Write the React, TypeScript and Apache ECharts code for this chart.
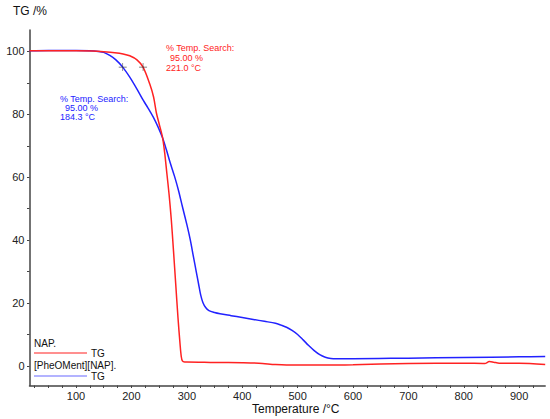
import React, { useEffect, useRef } from "react";
import * as echarts from "echarts";

// NAP. (red) TG curve: temperature (°C) and mass (%)
const NAP_T = [16, 50, 100, 130, 150, 170, 185, 197, 210, 221, 233, 240, 245, 250, 256, 260, 264, 268, 272, 276, 280, 284, 288, 290, 292, 296, 300, 350, 400, 430, 460, 480, 550, 600, 700, 800, 838, 846, 854, 864, 900, 947];
const NAP_V = [100.2, 100.2, 100.2, 100.1, 99.9, 99.6, 99.2, 98.6, 97.3, 95.0, 89.7, 85.5, 80.5, 77.0, 72.8, 67.8, 61.2, 54.5, 46.5, 36.5, 26.0, 15.5, 6.5, 3.0, 1.6, 1.3, 1.3, 1.15, 1.05, 0.9, 0.45, 0.3, 0.3, 0.4, 0.8, 0.9, 0.8, 1.4, 1.2, 0.9, 0.9, 0.5];

// [PheOMent][NAP]. (blue) TG curve
const PHE_T = [16, 50, 100, 125, 140, 150, 161, 172, 184.3, 197, 210, 221.5, 230, 239.5, 248, 256, 263, 270, 278, 285, 292, 300, 306, 312, 317, 321, 325, 329, 334, 340, 350, 360, 380, 400, 420, 440, 460, 470, 480, 490, 500, 510, 520, 530, 540, 550, 560, 570, 600, 700, 800, 900, 947];
const PHE_V = [100.2, 100.3, 100.3, 100.2, 100.0, 99.7, 98.7, 97.3, 95.0, 91.8, 88.0, 84.4, 82.0, 79.1, 76.0, 72.6, 68.8, 64.6, 60.2, 55.8, 50.7, 45.0, 40.3, 34.7, 30.0, 26.3, 22.6, 20.2, 18.6, 17.6, 17.0, 16.6, 16.0, 15.4, 14.8, 14.2, 13.6, 13.0, 12.3, 11.3, 10.0, 8.3, 6.5, 4.9, 3.6, 2.8, 2.4, 2.3, 2.3, 2.5, 2.7, 2.9, 3.0];

// Temperature search markers (95.00 %)
const SEARCH_T = [184.3, 221.0];
const SEARCH_V = [95.0, 95.0];

const X_LABELS = [100, 200, 300, 400, 500, 600, 700, 800, 900];
const X_TICKS = [25, 50, 75, 100, 125, 150, 175, 200, 225, 250, 275, 300, 325, 350, 375, 400, 425, 450, 475, 500, 525, 550, 575, 600, 625, 650, 675, 700, 725, 750, 775, 800, 825, 850, 875, 900, 925];
const Y_LABELS = [0, 20, 40, 60, 80, 100];
const Y_TICKS = [0, 10, 20, 30, 40, 50, 60, 70, 80, 90, 100];

const RED = "#ff2222";
const BLUE = "#2222ff";
const FONT = "'Liberation Sans', Arial, sans-serif";

export default function App() {
  const ref = useRef<HTMLDivElement>(null);
  useEffect(() => {
    if (!ref.current) return;
    const chart = echarts.init(ref.current, null, { renderer: "svg" });
    const nap = NAP_T.map((t, i) => [t, NAP_V[i]]);
    const phe = PHE_T.map((t, i) => [t, PHE_V[i]]);
    const marks = SEARCH_T.map((t, i) => [t, SEARCH_V[i]]);
    const axisCol = "#444";
    chart.setOption({
      animation: false,
      backgroundColor: "#fff",
      grid: { left: 29.5, right: 4.8, top: 30, bottom: 33.5, containLabel: false },
      xAxis: {
        type: "value",
        min: 16,
        max: 947,
        axisLine: { show: true, onZero: false, lineStyle: { color: axisCol, width: 1.5 } },
        axisTick: { show: true, customValues: X_TICKS, length: 2.5, inside: false, lineStyle: { color: axisCol } },
        axisLabel: { customValues: X_LABELS, color: "#222", fontSize: 11, fontFamily: FONT, margin: 5 },
        splitLine: { show: false },
      },
      yAxis: {
        type: "value",
        min: -6.2,
        max: 106.8,
        axisLine: { show: true, onZero: false, lineStyle: { color: axisCol, width: 1.5 } },
        axisTick: { show: true, customValues: Y_TICKS, length: 2.5, lineStyle: { color: axisCol } },
        axisLabel: { customValues: Y_LABELS, color: "#222", fontSize: 11, fontFamily: FONT, margin: 5 },
        splitLine: { show: false },
      },
      series: [
        {
          type: "line",
          data: phe,
          showSymbol: false,
          smooth: 0.3,
          lineStyle: { color: BLUE, width: 1.5 },
          z: 2,
        },
        {
          type: "line",
          data: nap,
          showSymbol: false,
          smooth: 0.3,
          lineStyle: { color: RED, width: 1.5 },
          z: 3,
        },
        {
          type: "scatter",
          data: marks,
          symbol: "path://M4.6,0h0.8v4.6h4.6v0.8h-4.6v4.6h-0.8v-4.6h-4.6v-0.8h4.6z",
          symbolSize: 8,
          itemStyle: { color: "#333" },
          z: 4,
        },
      ],
      graphic: [
        { type: "text", left: 13, top: 5, style: { text: "TG /%", fontSize: 12, fontFamily: FONT, fill: "#111" } },
        { type: "text", left: 252, top: 403, style: { text: "Temperature /°C", fontSize: 12, fontFamily: FONT, fill: "#111" } },
        // red annotation
        { type: "text", left: 166, top: 43, style: { text: "% Temp. Search:", fontSize: 9, fontFamily: FONT, fill: RED } },
        { type: "text", left: 170, top: 53, style: { text: "95.00 %", fontSize: 9, fontFamily: FONT, fill: RED } },
        { type: "text", left: 166, top: 63, style: { text: "221.0 °C", fontSize: 9, fontFamily: FONT, fill: RED } },
        // blue annotation
        { type: "text", left: 60, top: 94, style: { text: "% Temp. Search:", fontSize: 9, fontFamily: FONT, fill: BLUE } },
        { type: "text", left: 65, top: 103, style: { text: "95.00 %", fontSize: 9, fontFamily: FONT, fill: BLUE } },
        { type: "text", left: 60, top: 112, style: { text: "184.3 °C", fontSize: 9, fontFamily: FONT, fill: BLUE } },
        // legend
        { type: "text", left: 34, top: 338, style: { text: "NAP.", fontSize: 10, fontFamily: FONT, fill: "#111" } },
        { type: "line", shape: { x1: 34, y1: 353, x2: 87, y2: 353 }, style: { stroke: "#ff6a6a", lineWidth: 1.3 } },
        { type: "text", left: 91, top: 348, style: { text: "TG", fontSize: 10, fontFamily: FONT, fill: "#111" } },
        { type: "text", left: 34, top: 360, style: { text: "[PheOMent][NAP].", fontSize: 10, fontFamily: FONT, fill: "#111" } },
        { type: "line", shape: { x1: 34, y1: 376, x2: 87, y2: 376 }, style: { stroke: "#9a9aff", lineWidth: 1.3 } },
        { type: "text", left: 91, top: 371, style: { text: "TG", fontSize: 10, fontFamily: FONT, fill: "#111" } },
      ],
    });
    return () => chart.dispose();
  }, []);
  return (
    <div
      ref={ref}
      style={{ position: "absolute", left: 0, top: 0, width: 550, height: 419, background: "#fff" }}
    />
  );
}
